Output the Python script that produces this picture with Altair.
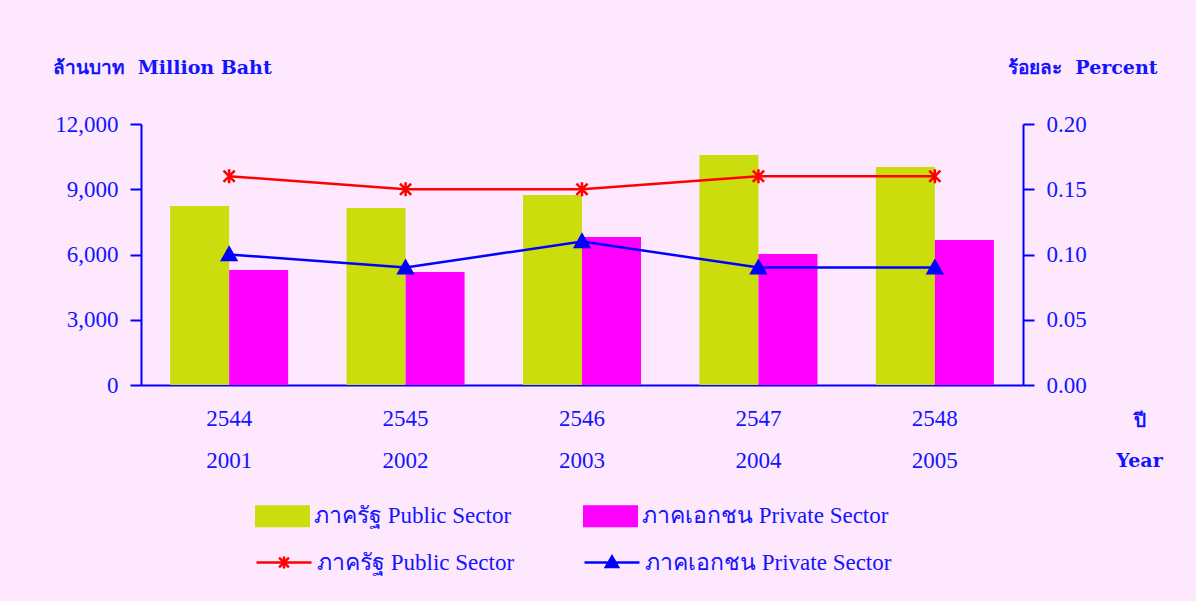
import altair as alt
import pandas as pd

# ---- data ----
years_be = ["2544", "2545", "2546", "2547", "2548"]
years_ce = ["2001", "2002", "2003", "2004", "2005"]
series = ["ภาครัฐ Public Sector", "ภาคเอกชน Private Sector"]
public_mb = [8230, 8140, 8740, 10570, 10020]
private_mb = [5290, 5200, 6800, 6020, 6670]
public_pct = [0.16, 0.15, 0.15, 0.16, 0.16]
private_pct = [0.10, 0.09, 0.11, 0.09, 0.09]
left_ticks = [0, 3000, 6000, 9000, 12000]
right_ticks = [0, 0.05, 0.10, 0.15, 0.20]

# identically labelled keys for the line legend, so it stays apart from the bar legend
line_keys = [s + " " for s in series]

bar_df = pd.DataFrame(
    [{"year": y, "bar_series": series[0], "value": v} for y, v in zip(years_be, public_mb)]
    + [{"year": y, "bar_series": series[1], "value": v} for y, v in zip(years_be, private_mb)]
)
line_df = pd.DataFrame(
    [{"year": y, "line_series": line_keys[0], "pct": v} for y, v in zip(years_be, public_pct)]
    + [{"year": y, "line_series": line_keys[1], "pct": v} for y, v in zip(years_be, private_pct)]
)

BLUE = "#0000FF"
TXT = "#1414FF"
GREEN = "#CCDD0E"
MAGENTA = "#FF00FF"
RED = "#FF0000"
LABEL_FONT = "Liberation Serif"
TITLE_FONT = "DejaVu Serif"
COL_PAD = 71

# two-line x labels: Buddhist year over Gregorian year
ce_lookup = " : ".join(f"datum.value === '{b}' ? '{c}'" for b, c in zip(years_be, years_ce)) + " : ''"
x_label_expr = f"[datum.value, ({ce_lookup})]"

x_enc = alt.X(
    "year:N",
    sort=years_be,
    scale=alt.Scale(paddingInner=0.331, paddingOuter=0.165),
    axis=alt.Axis(
        labelAngle=0,
        labelExpr=x_label_expr,
        labelBaseline="alphabetic",
        labelPadding=40,
        labelLineHeight=42,
        ticks=False,
        tickSize=0,
        domainColor=BLUE,
        domainWidth=2,
        title=["ปี", "Year"],
        titleX=998,
        titleY=41,
        titleAlign="center",
        titleBaseline="alphabetic",
        titleLineHeight=40,
    ),
)

# marker shapes for the data points
AST = "M-0.8,-0.8L0.8,0.8M-0.8,0.8L0.8,-0.8M0,-1V1"
TRI = "M-1,0.8L0,-0.95L1,0.8Z"
# legend symbols: line segment with the marker on it
AST_LEG = "M-1,0H1M-0.18,-0.18L0.18,0.18M-0.18,0.18L0.18,-0.18M0,-0.22V0.22"
TRI_LEG = "M-1,0H1M-0.22,0.16L0,-0.22L0.22,0.16Z"

line_scale = alt.Scale(domain=line_keys, range=[RED, BLUE])
is_private = f"datum.line_series === '{line_keys[1]}'"
is_public = f"datum.line_series === '{line_keys[0]}'"

bars = alt.Chart(bar_df).mark_bar(opacity=1).encode(
    x=x_enc,
    xOffset=alt.XOffset("bar_series:N", sort=series, scale=alt.Scale(paddingInner=0, paddingOuter=0)),
    y=alt.Y(
        "value:Q",
        scale=alt.Scale(domain=[0, 12000], nice=False),
        axis=alt.Axis(
            values=left_ticks,
            format=",d",
            grid=False,
            domainColor=BLUE,
            domainWidth=2,
            tickColor=BLUE,
            tickWidth=2,
            tickSize=11,
            labelPadding=12,
            title="ล้านบาท \u00a0Million Baht",
            titleAngle=0,
            titleAlign="left",
            titleBaseline="middle",
            titleX=-89,
            titleY=-57,
        ),
    ),
    color=alt.Color(
        "bar_series:N",
        sort=series,
        scale=alt.Scale(domain=series, range=[GREEN, MAGENTA]),
        legend=alt.Legend(
            orient="none",
            legendX=114,
            legendY=364.5,
            direction="horizontal",
            title=None,
            padding=0,
            symbolType="M-1,-0.4H1V0.4H-1Z",
            symbolSize=3025,
            symbolStrokeWidth=0,
            symbolOpacity=1,
            labelOffset=4,
            columnPadding=COL_PAD,
        ),
    ),
)

lines = alt.Chart(line_df).mark_line(strokeWidth=2.5).encode(
    x=x_enc,
    y=alt.Y(
        "pct:Q",
        scale=alt.Scale(domain=[0, 0.2], nice=False),
        axis=alt.Axis(
            orient="right",
            values=right_ticks,
            format=".2f",
            grid=False,
            domainColor=BLUE,
            domainWidth=2,
            tickColor=BLUE,
            tickWidth=2,
            tickSize=11,
            labelPadding=12,
            title="ร้อยละ \u00a0Percent",
            titleAngle=0,
            titleAlign="right",
            titleBaseline="middle",
            titleX=134,
            titleY=-57,
        ),
    ),
    stroke=alt.Stroke("line_series:N", sort=line_keys, scale=line_scale, legend=None),
)

points = alt.Chart(line_df).mark_point(size=196, strokeWidth=2.5, opacity=1).encode(
    x=x_enc,
    y=alt.Y("pct:Q"),
    stroke=alt.Stroke("line_series:N", sort=line_keys, scale=line_scale, legend=None),
    shape=alt.condition(is_private, alt.value(TRI), alt.value(AST)),
    fill=alt.condition(is_private, alt.value(BLUE), alt.value("transparent")),
)

# invisible layers that only carry the line legend entries (segment + marker symbols)
legend_public = alt.Chart(line_df).transform_filter(is_public).mark_point(
    filled=False, opacity=0, strokeWidth=2.5
).encode(
    x=x_enc,
    y=alt.Y("pct:Q"),
    color=alt.Color(
        "line_series:N",
        scale=alt.Scale(domain=[line_keys[0]], range=[RED]),
        legend=alt.Legend(
            orient="none",
            legendX=114,
            legendY=409.5,
            title=None,
            padding=0,
            symbolType=AST_LEG,
            symbolSize=3025,
            symbolStrokeWidth=2.5,
            symbolOpacity=1,
            labelOffset=4,
            labelExpr="trim(datum.label)",
        ),
    ),
)

legend_private = alt.Chart(line_df).transform_filter(is_private).mark_point(
    filled=True, opacity=0, stroke=BLUE, strokeWidth=2.5
).encode(
    x=x_enc,
    y=alt.Y("pct:Q"),
    fill=alt.Fill(
        "line_series:N",
        scale=alt.Scale(domain=[line_keys[1]], range=[BLUE]),
        legend=alt.Legend(
            orient="none",
            legendX=442,
            legendY=409.5,
            title=None,
            padding=0,
            symbolType=TRI_LEG,
            symbolSize=3025,
            symbolStrokeColor=BLUE,
            symbolStrokeWidth=2.5,
            symbolOpacity=1,
            labelOffset=4,
            labelExpr="trim(datum.label)",
        ),
    ),
)

pct_layer = alt.layer(lines, points, legend_public, legend_private)

chart = (
    alt.layer(bars, pct_layer)
    .resolve_scale(y="independent", color="independent")
    .resolve_legend(color="independent")
    .properties(
        width=882,
        height=261,
        autosize="none",
        padding={"left": 141, "top": 124, "right": 173, "bottom": 216},
        background="#FDE8FD",
    )
    .configure_view(strokeWidth=0)
    .configure_axis(
        labelFont=LABEL_FONT,
        labelFontSize=23,
        labelColor=TXT,
        titleFont=TITLE_FONT,
        titleFontSize=19,
        titleFontWeight="bold",
        titleColor=TXT,
    )
    .configure_legend(
        labelFont=LABEL_FONT,
        labelFontSize=23,
        labelColor=TXT,
        labelLimit=400,
    )
)

chart.save("out.html", embed_options={"renderer": "svg", "actions": False})
